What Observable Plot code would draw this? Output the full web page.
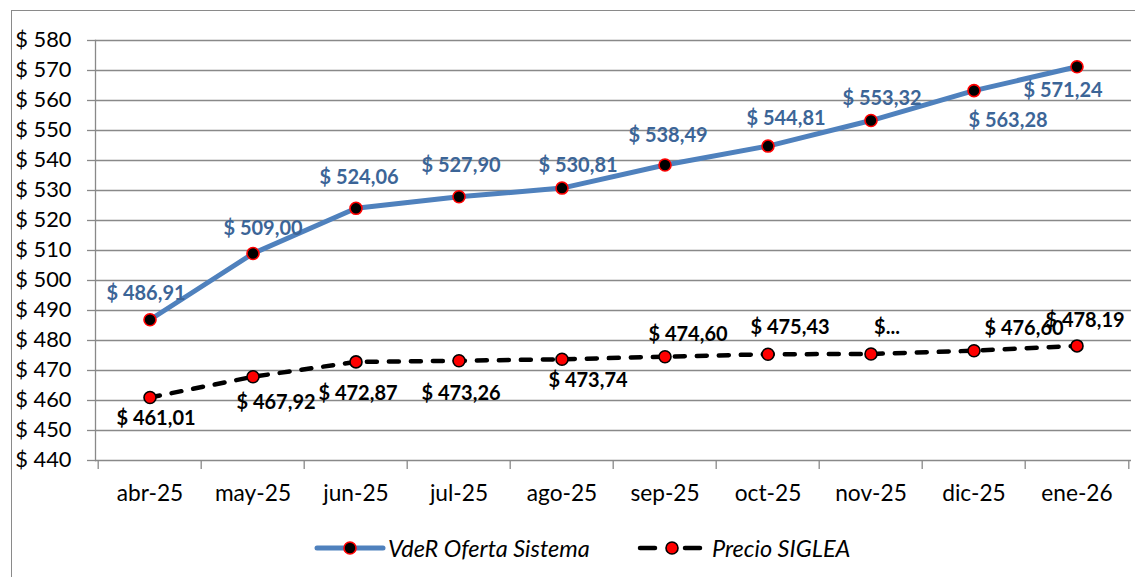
<!DOCTYPE html>
<html>
<head>
<meta charset="utf-8">
<script src="https://cdn.jsdelivr.net/npm/d3@7"></script>
<script src="https://cdn.jsdelivr.net/npm/@observablehq/plot@0.6"></script>
<style>
  html, body { margin: 0; padding: 0; background: #fff; }
  #wrap { position: relative; width: 1135px; height: 577px; overflow: hidden; font-family: Lato, "Open Sans", sans-serif; }
  #frame { position: absolute; left: 11px; top: 10px; width: 1300px; height: 700px; border-left: 1.3px solid #8a8a8a; border-top: 1.3px solid #8a8a8a; }
  #chart { position: absolute; left: 0; top: 0; }
  .sw { position: absolute; top: 538px; }
  .lt { position: absolute; top: 532px; line-height: 32px; font-style: italic; font-size: 23.5px; color: #000; white-space: nowrap; }
</style>
</head>
<body>
<div id="wrap">
  <div id="frame"></div>
  <div id="chart"></div>
  <svg class="sw" style="left:312px" width="76" height="20"><line x1="5" y1="10" x2="71" y2="10" stroke="#4F81BD" stroke-width="5" stroke-linecap="round"/><circle cx="38" cy="10" r="6" fill="#000" stroke="red" stroke-width="1.6"/></svg>
  <span class="lt" style="left:388px">VdeR Oferta Sistema</span>
  <svg class="sw" style="left:635px" width="72" height="20"><line x1="5" y1="10" x2="20" y2="10" stroke="#000" stroke-width="4.5" stroke-linecap="round"/><line x1="50" y1="10" x2="65" y2="10" stroke="#000" stroke-width="4.5" stroke-linecap="round"/><circle cx="37" cy="10" r="6" fill="red" stroke="#000" stroke-width="1.6"/></svg>
  <span class="lt" style="left:712px">Precio SIGLEA</span>
</div>
<script>
const months = ["abr-25","may-25","jun-25","jul-25","ago-25","sep-25","oct-25","nov-25","dic-25","ene-26"];
const vdeR = [486.91, 509.00, 524.06, 527.90, 530.81, 538.49, 544.81, 553.32, 563.28, 571.24];
const siglea = [461.01, 467.92, 472.87, 473.26, 473.74, 474.60, 475.43, 475.50, 476.60, 478.19];
const vdeRLabels = ["$ 486,91","$ 509,00","$ 524,06","$ 527,90","$ 530,81","$ 538,49","$ 544,81","$ 553,32","$ 563,28","$ 571,24"];
const sigleaLabels = ["$ 461,01","$ 467,92","$ 472,87","$ 473,26","$ 473,74","$ 474,60","$ 475,43","$...","$ 476,60","$ 478,19"];
const yTicks = [440,450,460,470,480,490,500,510,520,530,540,550,560,570,580];

// label placement (layout only)
const vdeROffsets = [[-4,-26],[10,-25],[3,-31],[2,-31],[16,-22],[3,-29],[18,-27],[11,-22],[34,30],[-14,24]];
const sigleaOffsets = [[6,21],[23,26],[2,32],[2,33],[26,21],[23,-22],[22,-27],[16,-26],[50,-22],[8,-25]];

const blueData = months.map((m, i) => ({month: m, value: vdeR[i], label: vdeRLabels[i]}));
const blackData = months.map((m, i) => ({month: m, value: siglea[i], label: sigleaLabels[i]}));

const W = 1135, H = 520, mL = 95, mR = 4, mT = 40, mB = 60;
const half = (W - mL - mR) / months.length / 2;
const grid = "#898989";

const labelMarks = (data, offs, color) => data.map((d, i) =>
  Plot.text([d], {x: "month", y: "value", text: "label", dx: offs[i][0], dy: offs[i][1],
    fill: color, fontWeight: "bold", fontSize: 20, textAnchor: "middle", lineAnchor: "middle"}));

const chart = Plot.plot({
  width: W, height: H,
  marginLeft: mL, marginRight: mR, marginTop: mT, marginBottom: mB,
  style: {fontFamily: "Lato, 'Open Sans', sans-serif", fontSize: "21px", background: "transparent", color: "#000"},
  x: {type: "band", domain: months, padding: 0, label: null},
  y: {domain: [440, 580], label: null},
  marks: [
    Plot.gridY(yTicks, {stroke: grid, strokeOpacity: 1, strokeWidth: 1.3}),
    Plot.axisY(yTicks, {tickSize: 8, tickPadding: 16, tickFormat: d => "$ " + d, stroke: grid, strokeWidth: 1.3, fill: "#000", fontSize: 21.8, label: null}),
    Plot.axisX(months, {tickSize: 9, text: null, dx: -half, stroke: grid, strokeWidth: 1.3, label: null}),
    Plot.axisX([months[months.length - 1]], {tickSize: 9, text: null, dx: half, stroke: grid, strokeWidth: 1.3, label: null}),
    Plot.axisX(months, {tickSize: 0, tickPadding: 24, fill: "#000", fontSize: 22.7, label: null}),
    Plot.frame({anchor: "left", stroke: grid, strokeWidth: 1.3}),
    Plot.line(blueData, {x: "month", y: "value", stroke: "#4F81BD", strokeWidth: 5, strokeLinejoin: "round"}),
    Plot.line(blackData, {x: "month", y: "value", stroke: "#000", strokeWidth: 4.5, strokeDasharray: "10,12", strokeLinecap: "round"}),
    Plot.dot(blueData, {x: "month", y: "value", r: 6, fill: "#000", stroke: "red", strokeWidth: 1.6}),
    Plot.dot(blackData, {x: "month", y: "value", r: 6, fill: "red", stroke: "#000", strokeWidth: 1.6}),
    ...labelMarks(blueData, vdeROffsets, "#3C6597"),
    ...labelMarks(blackData, sigleaOffsets, "#000")
  ]
});
document.getElementById("chart").appendChild(chart);
</script>
</body>
</html>
